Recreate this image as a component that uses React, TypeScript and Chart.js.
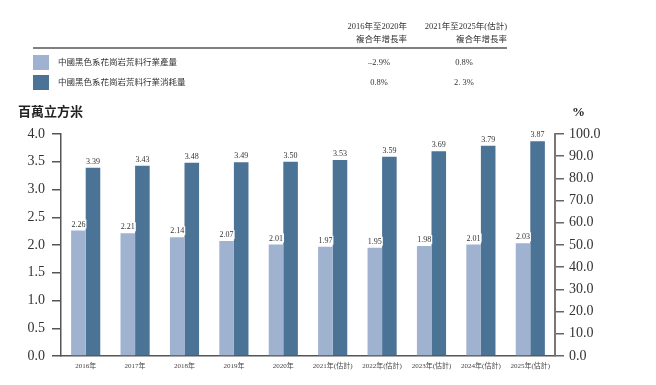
import React, { useEffect, useRef } from "react";
import { Chart, registerables } from "chart.js";

Chart.register(...registerables);

const categories = [
  "2016年", "2017年", "2018年", "2019年", "2020年",
  "2021年(估計)", "2022年(估計)", "2023年(估計)", "2024年(估計)", "2025年(估計)",
];
const production = [2.26, 2.21, 2.14, 2.07, 2.01, 1.97, 1.95, 1.98, 2.01, 2.03];
const consumption = [3.39, 3.43, 3.48, 3.49, 3.5, 3.53, 3.59, 3.69, 3.79, 3.87];
const seriesNames = ["中國黑色系花崗岩荒料行業產量", "中國黑色系花崗岩荒料行業消耗量"];
const cagrHeaders = [["2016年至2020年", "複合年增長率"], ["2021年至2025年(估計)", "複合年增長率"]];
const cagr2016to2020 = ["–2.9%", "0.8%"];
const cagr2021to2025 = ["0.8%", "2. 3%"];
const leftTitle = "百萬立方米";
const rightTitle = "%";

const LIGHT = "#9fb2cf";
const DARK = "#4b7396";
const FONT = "'Liberation Serif', 'Noto Sans CJK TC', serif";

const labelPlugin = {
  id: "barLabels",
  afterDatasetsDraw(chart: any) {
    const ctx = chart.ctx;
    ctx.save();
    ctx.font = `8px ${FONT}`;
    ctx.textAlign = "center";
    ctx.textBaseline = "bottom";
    chart.data.datasets.forEach((ds: any, di: number) => {
      const meta = chart.getDatasetMeta(di);
      meta.data.forEach((el: any, i: number) => {
        const txt = Number(ds.data[i]).toFixed(2);
        const y = el.y - 2;
        if (di === 0) {
          const w = ctx.measureText(txt).width;
          ctx.fillStyle = "#ffffff";
          ctx.fillRect(el.x - w / 2 - 1, y - 9, w + 2, 9);
        }
        ctx.fillStyle = "#333";
        ctx.fillText(txt, el.x, y);
      });
    });
    ctx.restore();
  },
};

export default function App() {
  const ref = useRef<HTMLCanvasElement>(null);
  useEffect(() => {
    if (!ref.current) return;
    const chart = new Chart(ref.current, {
      type: "bar",
      data: {
        labels: categories,
        datasets: [
          { label: seriesNames[0], data: production, backgroundColor: LIGHT, yAxisID: "y", categoryPercentage: 0.59, barPercentage: 1 },
          { label: seriesNames[1], data: consumption, backgroundColor: DARK, yAxisID: "y", categoryPercentage: 0.59, barPercentage: 1 },
        ],
      },
      options: {
        animation: false,
        responsive: false,
        maintainAspectRatio: false,
        layout: { padding: { top: 134, left: 0, right: 0, bottom: 0 } },
        plugins: { legend: { display: false }, tooltip: { enabled: false } },
        scales: {
          x: {
            grid: { display: false },
            border: { display: true, color: "#555", width: 1.5 },
            ticks: { color: "#444", font: { family: FONT, size: 7 }, maxRotation: 0, autoSkip: false, padding: -2 },
            afterFit: (s: any) => { s.height = 29; },
          },
          y: {
            position: "left",
            min: 0, max: 4,
            ticks: { stepSize: 0.5, color: "#333", font: { family: FONT, size: 14 }, padding: 7, callback: (v: any) => Number(v).toFixed(1) },
            grid: { drawOnChartArea: false, drawTicks: true, tickLength: 9, color: "#555", lineWidth: 1.5 },
            border: { display: true, color: "#555", width: 1.5 },
            afterFit: (s: any) => { s.width = 61; },
          },
          y1: {
            position: "right",
            min: 0, max: 100,
            ticks: { stepSize: 10, color: "#333", font: { family: FONT, size: 14 }, padding: 5, callback: (v: any) => Number(v).toFixed(1) },
            grid: { drawOnChartArea: false, drawTicks: true, tickLength: 9, color: "#666", lineWidth: 1.5 },
            border: { display: true, color: "#777", width: 2 },
            afterFit: (s: any) => { s.width = 101; },
          },
        },
      },
      plugins: [labelPlugin],
    });
    return () => chart.destroy();
  }, []);

  const txt: React.CSSProperties = { position: "absolute", fontFamily: FONT, color: "#333", whiteSpace: "nowrap", lineHeight: 1 };

  return (
    <div style={{ position: "fixed", left: 0, top: 0, width: 656, height: 385, background: "#fff", overflow: "hidden" }}>
      <canvas ref={ref} width={656} height={385} style={{ position: "absolute", left: 0, top: 0, width: 656, height: 385 }} />
      {cagrHeaders.map((h, i) => (
        <React.Fragment key={i}>
          <div style={{ ...txt, fontSize: 8.5, right: 656 - (i === 0 ? 407 : 507), top: 22 }}>{h[0]}</div>
          <div style={{ ...txt, fontSize: 8.5, right: 656 - (i === 0 ? 407 : 507), top: 35 }}>{h[1]}</div>
        </React.Fragment>
      ))}
      <div style={{ position: "absolute", left: 33, top: 47, width: 474, height: 2, background: "#808080" }} />
      {seriesNames.map((n, i) => (
        <React.Fragment key={n}>
          <div style={{ position: "absolute", left: 33, top: 55 + i * 20, width: 16, height: 15, background: i === 0 ? LIGHT : DARK }} />
          <div style={{ ...txt, fontSize: 8.5, left: 58, top: 58 + i * 20 }}>{n}</div>
          <div style={{ ...txt, fontSize: 8.5, left: 379, top: 58 + i * 20, transform: "translateX(-50%)" }}>{cagr2016to2020[i]}</div>
          <div style={{ ...txt, fontSize: 8.5, left: 464, top: 58 + i * 20, transform: "translateX(-50%)" }}>{cagr2021to2025[i]}</div>
        </React.Fragment>
      ))}
      <div style={{ ...txt, fontSize: 13, fontWeight: "bold", left: 18, top: 105, color: "#222" }}>{leftTitle}</div>
      <div style={{ ...txt, fontSize: 13, fontWeight: "bold", left: 572, top: 105, color: "#222" }}>{rightTitle}</div>
    </div>
  );
}
